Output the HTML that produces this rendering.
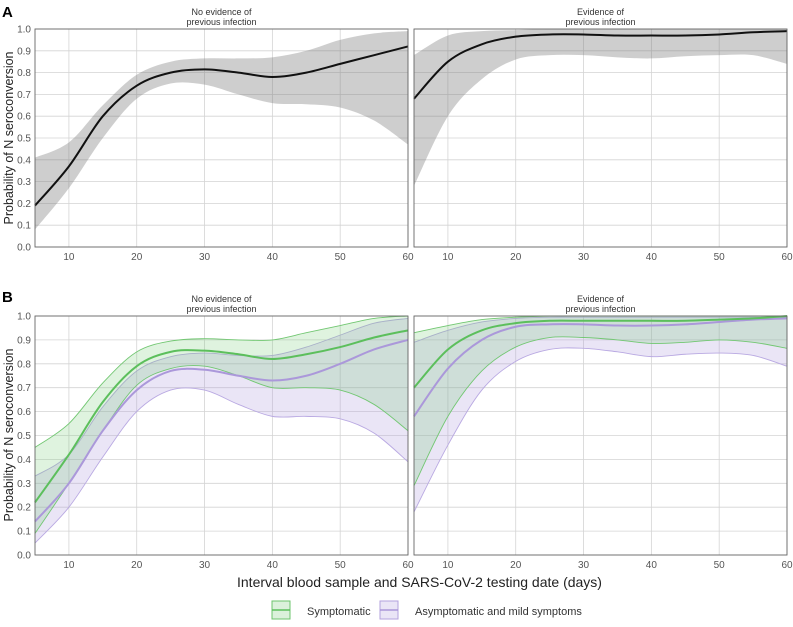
<!DOCTYPE html>
<html><head><meta charset="utf-8"><style>
body{margin:0;background:#fff;font-family:"Liberation Sans",sans-serif}
svg text{font-family:"Liberation Sans",sans-serif}
</style></head><body>
<svg id="chart" width="793" height="622" viewBox="0 0 793 622" xmlns="http://www.w3.org/2000/svg">
<text x="2" y="17" font-size="15" font-weight="bold">A</text>
<text x="2" y="302" font-size="15" font-weight="bold">B</text>
<text x="237" y="587" font-size="14" fill="#222">Interval blood sample and SARS-CoV-2 testing date (days)</text>
<g>
<g>
<rect x="272" y="601" width="18" height="18" fill="rgba(110,200,110,0.25)" stroke="#6cc46c" stroke-width="1"/>
<line x1="272" y1="610" x2="290" y2="610" stroke="#5cbf5c" stroke-width="1.5"/>
<text x="307" y="615" font-size="11" fill="#333">Symptomatic</text></g>
<g>
<rect x="380" y="601" width="18" height="18" fill="rgba(170,150,220,0.25)" stroke="#b3a2dd" stroke-width="1"/>
<line x1="380" y1="610" x2="398" y2="610" stroke="#a996d8" stroke-width="1.5"/>
<text x="415" y="615" font-size="11" fill="#333">Asymptomatic and mild symptoms</text></g>
</g>
</svg>
<script>
const days=[5,10,15,20,25,30,35,40,45,50,55,60];
const xTicks=[10,20,30,40,50,60];
const yTicks=[0,0.1,0.2,0.3,0.4,0.5,0.6,0.7,0.8,0.9,1.0];
const stripLabels=["No evidence of","previous infection","Evidence of","previous infection"];
// Panel A
const aNoMean=[.19,.37,.6,.74,.80,.815,.80,.78,.80,.84,.88,.92];
const aNoLo=[.08,.27,.5,.68,.75,.745,.70,.66,.655,.64,.58,.47];
const aNoHi=[.41,.48,.65,.79,.85,.865,.865,.87,.90,.95,.98,.99];
const aEvMean=[.68,.85,.93,.965,.975,.975,.97,.97,.97,.975,.985,.99];
const aEvLo=[.28,.6,.77,.86,.88,.88,.87,.865,.875,.88,.88,.84];
const aEvHi=[.88,.97,.99,.995,1,1,1,1,1,1,1,1];
// Panel B symptomatic / asymptomatic
const bNoSymMean=[.22,.42,.64,.79,.85,.855,.84,.82,.84,.87,.91,.94];
const bNoSymLo=[.09,.30,.52,.71,.78,.79,.75,.70,.70,.69,.63,.52];
const bNoSymHi=[.45,.55,.72,.85,.895,.905,.90,.90,.93,.96,.99,1.0];
const bNoAsyMean=[.14,.30,.52,.69,.77,.775,.75,.73,.75,.80,.86,.90];
const bNoAsyLo=[.05,.20,.41,.60,.69,.69,.63,.58,.58,.57,.51,.39];
const bNoAsyHi=[.33,.42,.62,.77,.83,.845,.835,.835,.87,.92,.97,.99];
const bEvSymMean=[.70,.86,.94,.97,.98,.98,.98,.98,.98,.985,.99,1.0];
const bEvSymLo=[.29,.58,.77,.87,.91,.91,.90,.885,.89,.90,.89,.865];
const bEvSymHi=[.93,.96,.985,.995,1,1,1,1,1,1,1,1];
const bEvAsyMean=[.58,.78,.90,.955,.965,.965,.96,.96,.965,.975,.985,.99];
const bEvAsyLo=[.18,.46,.69,.81,.86,.865,.85,.83,.84,.845,.835,.79];
const bEvAsyHi=[.89,.94,.975,.99,.995,.995,.995,.995,.995,.995,.995,.995];

const svg=document.getElementById('chart');
const NS='http://www.w3.org/2000/svg';
function mk(tag,attrs,parent){const e=document.createElementNS(NS,tag);for(const k in attrs)e.setAttribute(k,attrs[k]);(parent||svg).appendChild(e);return e;}
function smooth(pts){let d='M'+pts[0][0]+','+pts[0][1];for(let i=0;i<pts.length-1;i++){const p0=pts[i-1]||pts[i],p1=pts[i],p2=pts[i+1],p3=pts[i+2]||p2;
const c1=[p1[0]+(p2[0]-p0[0])/6,p1[1]+(p2[1]-p0[1])/6],c2=[p2[0]-(p3[0]-p1[0])/6,p2[1]-(p3[1]-p1[1])/6];
d+=' C'+c1[0]+','+c1[1]+' '+c2[0]+','+c2[1]+' '+p2[0]+','+p2[1];}return d;}
function smoothCont(pts){return smooth(pts).replace(/^M/,'L');}

function panel(name,x0,x1,y0,y1,ylabels,strip,series){
  const g=mk('g',{});
  
  
  const sx=d=>x0+(d-5)/55*(x1-x0), sy=v=>y1-v*(y1-y0);
  yTicks.forEach(t=>{const l=mk('line',{x1:x0,x2:x1,y1:sy(t),y2:sy(t),stroke:'#d4d4d4','stroke-width':0.8},g);
    
    if(ylabels){const tx=mk('text',{x:x0-4,y:sy(t)+3.5,'font-size':10,fill:'#555','text-anchor':'end'},g);tx.textContent=t.toFixed(1);
    }});
  xTicks.forEach(t=>{const l=mk('line',{x1:sx(t),x2:sx(t),y1:y0,y2:y1,stroke:'#d4d4d4','stroke-width':0.8},g);
    
    const tx=mk('text',{x:sx(t),y:y1+13,'font-size':10,fill:'#555','text-anchor':'middle'},g);tx.textContent=t;
    });
  series.forEach(s=>{
    const lo=days.map((d,i)=>[sx(d),sy(s.lo[i])]),hi=days.map((d,i)=>[sx(d),sy(s.hi[i])]);
    const band=mk('path',{d:smooth(hi)+' '+smoothCont(lo.slice().reverse())+' Z',fill:s.fill,stroke:'none'},g);
    
    if(s.edge){[lo,hi].forEach(p=>{const e=mk('path',{d:smooth(p),fill:'none',stroke:s.edge,'stroke-width':0.9},g);
      });}
  });
  series.forEach(s=>{
    const m=days.map((d,i)=>[sx(d),sy(s.mean[i])]);
    const l=mk('path',{d:smooth(m),fill:'none',stroke:s.line,'stroke-width':s.lw},g);
    
  });
  const fr=mk('rect',{x:x0,y:y0,width:x1-x0,height:y1-y0,fill:'none',stroke:'#666','stroke-width':0.9},g);
  
  const cx=(x0+x1)/2;
  [strip[0],strip[1]].forEach((s,i)=>{const t=mk('text',{x:cx,y:y0-14+i*10,'font-size':9,fill:'#333','text-anchor':'middle'},g);t.textContent=s;
    });
}
const grey={fill:'rgba(120,120,120,0.36)',line:'#111',lw:2};
const G='#5cbf5c',P='#ab98da';
panel('panel-a-no-evidence',35,408,29,247,true,stripLabels.slice(0,2),[Object.assign({mean:aNoMean,lo:aNoLo,hi:aNoHi},grey)]);
panel('panel-a-evidence',414,787,29,247,false,stripLabels.slice(2,4),[Object.assign({mean:aEvMean,lo:aEvLo,hi:aEvHi},grey)]);
panel('panel-b-no-evidence',35,408,316,555,true,stripLabels.slice(0,2),[
 {mean:bNoAsyMean,lo:bNoAsyLo,hi:bNoAsyHi,fill:'rgba(170,150,220,0.25)',edge:'#b9a9e2',line:P,lw:2},
 {mean:bNoSymMean,lo:bNoSymLo,hi:bNoSymHi,fill:'rgba(110,200,110,0.22)',edge:'#72c772',line:G,lw:2}]);
panel('panel-b-evidence',414,787,316,555,false,stripLabels.slice(2,4),[
 {mean:bEvAsyMean,lo:bEvAsyLo,hi:bEvAsyHi,fill:'rgba(170,150,220,0.25)',edge:'#b9a9e2',line:P,lw:2},
 {mean:bEvSymMean,lo:bEvSymLo,hi:bEvSymHi,fill:'rgba(110,200,110,0.22)',edge:'#72c772',line:G,lw:2}]);
[[138],[435]].forEach(([cy])=>{const t=mk('text',{x:0,y:0,'font-size':12.5,fill:'#222','text-anchor':'middle',transform:'translate(13,'+cy+') rotate(-90)'});
 t.textContent='Probability of N seroconversion';
 
 });
</script>
</body></html>
